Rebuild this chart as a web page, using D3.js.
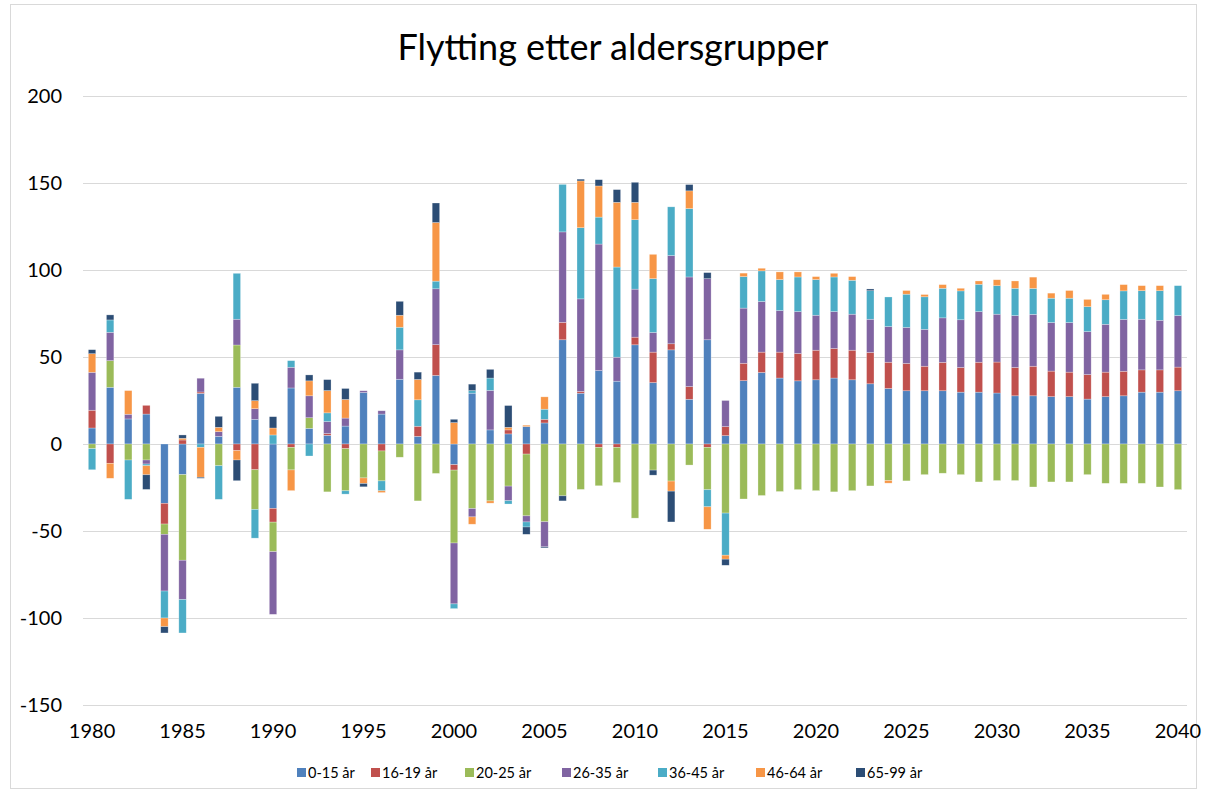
<!DOCTYPE html>
<html>
<head>
<meta charset="utf-8">
<script src="https://cdn.jsdelivr.net/npm/d3@7"></script>
<style>
  body { margin: 0; background: #fff; }
  text { font-family: Lato, "Open Sans", sans-serif; fill: #000; }
</style>
</head>
<body>
<div id="chart"></div>
<script>
const years = d3.range(1980, 2041);
const seriesNames = ["0-15 år", "16-19 år", "20-25 år", "26-35 år", "36-45 år", "46-64 år", "65-99 år"];
const colors = ["#4F81BD", "#C0504D", "#9BBB59", "#8064A2", "#4BACC6", "#F79646", "#2C4D75"];
const yTicks = [-150, -100, -50, 0, 50, 100, 150, 200];
const xTickYears = [1980, 1985, 1990, 1995, 2000, 2005, 2010, 2015, 2020, 2025, 2030, 2035, 2040];

// one value per year, 1980..2040
const age0_15 = [9.2, 32.6, 14.4, 17.2, -34.1, -17.6, 29.1, 4.4, 32.6, 14.2,
  -37, 32.2, 9.0, 5.0, 10.3, 29.6, 17.2, 37.2, 4.4, 39.4,
  -11.9, 29.2, 8.1, 5.8, 10, 12.1, 59.9, 29.2, 42.2, 36.1,
  57, 35.3, 54.1, 25.7, 59.9, 4.8, 36.4, 41.1, 37.9, 36.3,
  36.9, 37.9, 36.9, 34.6, 31.9, 30.6, 30.6, 30.6, 29.8, 29.8,
  29.3, 27.7, 27.7, 27.2, 27.2, 25.8, 27.2, 27.7, 29.8, 29.8, 30.6];
const age16_19 = [10.2, -11.1, 0, 5.0, -11.9, 2.3, 0.8, 0, -3.8, -14.8,
  -7.9, -1.9, 0, 1.0, -2.7, 0, -4.0, 0, 5.8, 17.7,
  -3.1, 0, 0, 2.3, -5.8, 2.1, 10, 1.0, -1.9, -1.9,
  4.4, 17.5, 3.5, 7.3, -1.9, 5.2, 10, 11.7, 14.9, 15.7,
  17, 17, 17, 18, 15.1, 15.7, 14.1, 16.3, 14.2, 17.2,
  17.8, 16.3, 17, 14.7, 14.1, 14.1, 14.1, 14.1, 12.8, 12.8, 13.6];
const age20_25 = [-2.7, 15.3, -9.2, -9.2, -5.9, -49.2, 0, -12.5, 24.3, -22.8,
  -17, -13, 6.1, -27.5, -24.2, -19.5, -17.2, -7.6, -32.7, -16.9,
  -41.9, -37.1, -32.7, -24.2, -35.5, -44.7, -29.8, -26.1, -22.1, -20.2,
  -42.6, -15, -21.3, -12.1, -24.4, -39.7, -31.6, -29.6, -27.3, -26.2,
  -26.8, -27.5, -26.8, -24.1, -21, -21.2, -17.6, -16.8, -17.6, -21.8,
  -21, -21, -24.7, -21.8, -21.8, -17.6, -22.6, -22.6, -22.6, -24.7, -26.2];
const age26_35 = [21.8, 16.3, 2.7, -2.3, -32.6, -22.6, 7.9, 2.7, 14.8, 6.1,
  -36, 11.9, 12.6, 6.9, 4.6, 1.0, 1.9, 16.9, 0, 32.1,
  -35, -4.8, 22.7, -8.4, -3.5, -14.4, 52, 53.2, 72.7, 13.8,
  27.6, 11.3, 50.7, 63, 35.1, 15, 31.7, 29.1, 23.9, 24.1,
  20.1, 21.2, 20.7, 19.1, 20.5, 20.7, 21.2, 25.6, 27.4, 29.1,
  27.5, 29.8, 29.8, 27.9, 28.5, 24.7, 27.5, 29.8, 29.1, 28.5, 29.6];
const age36_45 = [-12.1, 7.1, -22.6, -1.0, -15.5, -19.2, -1.9, -19.3, 26.4, -16.5,
  5.2, 3.8, -6.9, 5.0, -1.9, 0, -5.7, 13, 15.2, 4.4,
  -2.7, 1.5, 7.1, -1.9, -2.9, 5.8, 27.3, 40.9, 15.5, 51.8,
  39.9, 30.9, 28, 39.3, -9.8, -24.2, 18.1, 17.6, 17.8, 19.9,
  20.5, 19.9, 19.5, 16.4, 17, 19.1, 18.7, 17, 16.6, 15.7,
  16.4, 15.7, 14.9, 14, 14, 14.3, 14.1, 16.4, 16.4, 17, 17.2];
const age46_64 = [10.7, -8.6, 13.6, -5.2, -5.0, 1.0, -17.2, 2.5, -5.4, 4.6,
  4.0, -11.9, 8.6, 12.8, 10.7, -3.2, -1.0, 6.9, 11.7, 33.7,
  12.3, -4.2, -1.3, 1.5, 0.8, 7.1, 0, 26.9, 17.9, 37.2,
  10, 14, -5.8, 10.2, -12.9, -2.3, 2.0, 1.5, 4.4, 2.9,
  1.7, 2.1, 2.1, 0, -1.5, 2.1, 1.3, 2.1, 1.5, 1.9,
  3.4, 4.2, 6.5, 2.9, 4.4, 4.2, 3.1, 3.6, 2.9, 2.9, 0];
const age65_99 = [2.3, 2.9, 0, -8.4, -3.6, 1.9, -0.6, 6.3, -11.9, 10,
  6.5, 0, 3.4, 6.3, 6.3, -1.9, 0, 8.0, 4.2, 11.2,
  1.9, 3.7, 5.0, 12.5, -4.2, -0.6, -2.9, 1.0, 3.6, 7.3,
  11.5, -2.9, -17.7, 3.6, 3.5, -3.5, 0, 0, 0, 0,
  0, 0, 0, 1.0, 0, 0, 0, 0, 0, 0,
  0, 0, 0, 0, 0, 0, 0, 0, 0, 0, 0];

const seriesValues = [age0_15, age16_19, age20_25, age26_35, age36_45, age46_64, age65_99];

const width = 1205, height = 791;
const margin = { left: 83, right: 18, top: 96, bottom: 86 };

// rows for d3.stack
const rows = years.map((yr, i) => {
  const r = { year: yr };
  seriesNames.forEach((s, k) => r[s] = seriesValues[k][i]);
  return r;
});

const svg = d3.select("#chart").append("svg")
  .attr("width", width)
  .attr("height", height);

svg.append("rect")
  .attr("x", 10.5).attr("y", 4.5)
  .attr("width", 1186).attr("height", 784)
  .attr("fill", "#fff")
  .attr("stroke", "#d9d9d9");

const x = d3.scaleBand()
  .domain(years)
  .range([margin.left, width - margin.right])
  .paddingInner(0.59)
  .paddingOuter(0.295);

const y = d3.scaleLinear()
  .domain([-150, 200])
  .range([height - margin.bottom, margin.top]);

// gridlines
svg.append("g")
  .selectAll("line")
  .data(yTicks)
  .join("line")
  .attr("x1", margin.left)
  .attr("x2", width - margin.right)
  .attr("y1", d => Math.round(y(d)) + 0.5)
  .attr("y2", d => Math.round(y(d)) + 0.5)
  .attr("stroke", "#d9d9d9")
  .attr("stroke-width", 1);

// y axis labels (plain hyphen for negatives, like the original)
const yAxis = svg.append("g")
  .attr("transform", "translate(" + (margin.left - 21) + ",0)")
  .call(d3.axisLeft(y).tickValues(yTicks).tickFormat(d => String(d)).tickSize(0).tickPadding(0));
yAxis.select(".domain").remove();
yAxis.selectAll("text")
  .style("font-family", "Lato, sans-serif")
  .style("font-size", "20px")
  .attr("fill", "#000");

// stacked bars
const stack = d3.stack()
  .keys(seriesNames)
  .offset(d3.stackOffsetDiverging);
const layers = stack(rows);

svg.append("g")
  .selectAll("g")
  .data(layers)
  .join("g")
  .attr("fill", (d, i) => colors[i])
  .selectAll("rect")
  .data(d => d.filter(p => p[1] !== p[0]))
  .join("rect")
  .attr("x", d => x(d.data.year))
  .attr("width", x.bandwidth())
  .attr("y", d => y(Math.max(d[0], d[1])))
  .attr("height", d => Math.abs(y(d[0]) - y(d[1])))
  .attr("stroke", "rgba(255,255,255,0.45)")
  .attr("stroke-width", 0.6);

// x axis labels
const xAxis = svg.append("g")
  .attr("transform", "translate(0," + (y(-150) + 19) + ")")
  .call(d3.axisBottom(x).tickValues(xTickYears).tickSize(0).tickPadding(0));
xAxis.select(".domain").remove();
xAxis.selectAll("text")
  .attr("dy", "0.71em")
  .style("font-family", "Lato, sans-serif")
  .style("font-size", "20px")
  .attr("fill", "#000");

// title
svg.append("text")
  .attr("x", 613)
  .attr("y", 60)
  .attr("text-anchor", "middle")
  .style("font-size", "36px")
  .text("Flytting etter aldersgrupper");

// legend
const legendX = [297, 371, 465, 562, 658, 756, 856];
const legend = svg.append("g")
  .selectAll("g")
  .data(seriesNames)
  .join("g")
  .attr("transform", (d, i) => "translate(" + legendX[i] + ",773)");
legend.append("rect")
  .attr("x", 0).attr("y", -5)
  .attr("width", 9).attr("height", 9)
  .attr("fill", (d, i) => colors[i]);
legend.append("text")
  .attr("x", 11)
  .attr("y", 0)
  .attr("dy", "0.35em")
  .style("font-size", "14.5px")
  .text(d => d);
</script>
</body>
</html>
